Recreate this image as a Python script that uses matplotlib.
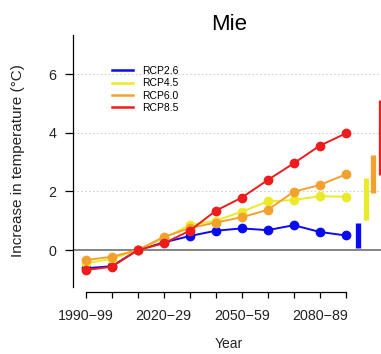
import numpy as np
import matplotlib
matplotlib.use("Agg")
import matplotlib.pyplot as plt

plt.rcParams['font.family'] = ['Liberation Sans', 'DejaVu Sans']

# Decades on the x axis (labels shown every third decade)
decades = ['1990\u221299', '2000\u221209', '2010\u221219', '2020\u221229', '2030\u221239',
           '2040\u221249', '2050\u221259', '2060\u221269', '2070\u221279', '2080\u221289',
           '2090\u221299']
shown_labels = ['1990\u221299', '2020\u221229', '2050\u221259', '2080\u221289']

scenarios = ['RCP2.6', 'RCP4.5', 'RCP6.0', 'RCP8.5']
colors = ['#0a0af0', '#eaea2a', '#f2a22c', '#ee1c1c']

rcp26 = [-0.62, -0.55, 0.0, 0.26, 0.48, 0.66, 0.74, 0.68, 0.85, 0.62, 0.50]
rcp45 = [-0.45, -0.30, 0.0, 0.40, 0.85, 1.00, 1.31, 1.66, 1.71, 1.84, 1.82]
rcp60 = [-0.34, -0.23, 0.0, 0.45, 0.75, 0.94, 1.12, 1.37, 1.99, 2.22, 2.58]
rcp85 = [-0.68, -0.57, 0.0, 0.23, 0.66, 1.34, 1.79, 2.39, 2.96, 3.56, 3.98]
series = [rcp26, rcp45, rcp60, rcp85]

# Range of end-of-century warming for each scenario
range_low = [0.08, 1.02, 1.94, 2.56]
range_high = [0.91, 2.47, 3.24, 5.12]

fig = plt.figure(figsize=(3.81, 3.54), dpi=100)
ax = fig.add_axes([73.3 / 381, 1 - 292 / 354, 1 - 73.3 / 381, (292 - 35) / 354])

x = np.arange(len(decades))
for vals, c in zip(series, colors):
    ax.plot(x, vals, color=c, lw=1.4, marker='o', ms=6, mec=c, mfc=c, zorder=3)

# range bars to the right of the last decade
bar_x = len(decades) - 1 + 0.48 + 0.29 * np.arange(len(scenarios))
for bx, lo, hi, c in zip(bar_x, range_low, range_high, colors):
    ax.plot([bx, bx], [lo, hi], color=c, lw=3.8, solid_capstyle='butt', zorder=3,
            clip_on=False)

for gy in [2, 4, 6]:
    ax.axhline(gy, color='#d0d0d0', lw=0.8, ls=(0, (1.5, 2)), zorder=1)
ax.axhline(0, color='#707070', lw=1.2, zorder=2)

ax.set_xlim(-0.48, 11.36)
ax.set_ylim(-1.43, 7.34)
ax.set_xticks(x)
ax.set_xticklabels([d if d in shown_labels else '' for d in decades], fontsize=10.3,
                   color='#222222')
ax.set_yticks([0, 2, 4, 6])
ax.set_yticklabels(['0', '2', '4', '6'], fontsize=10.3, color='#222222')
ax.tick_params(axis='x', length=4.5, width=0.9, pad=7.5)
ax.tick_params(axis='y', length=5.8, width=0.9, pad=6.3)

for s in ['top', 'right']:
    ax.spines[s].set_visible(False)
ax.spines['left'].set_bounds(-1.27, 7.34)
ax.spines['bottom'].set_bounds(0, 10)
ax.spines['left'].set_linewidth(0.9)
ax.spines['bottom'].set_linewidth(0.9)

leg = ax.legend([plt.Line2D([], [], color=c, lw=1.8) for c in colors], scenarios,
                loc='upper left', bbox_to_anchor=(112 / 381, 1 - 66 / 354),
                bbox_transform=fig.transFigure, frameon=False, fontsize=7.5,
                handlelength=2.0, handletextpad=0.85, labelspacing=0.22,
                borderpad=0, borderaxespad=0)

fig.text(229 / 381, 1 - 25 / 354, 'Mie', fontsize=16, ha='center', va='center')
fig.text(18.5 / 381, 1 - 161 / 354, 'Increase in temperature (\u00b0C)', fontsize=11,
         rotation=90, ha='center', va='center', color='#222222')
fig.text(229 / 381, 1 - 344 / 354, 'Year', fontsize=10, ha='center', va='center',
         color='#222222')

fig.savefig('out.png', dpi=100)
